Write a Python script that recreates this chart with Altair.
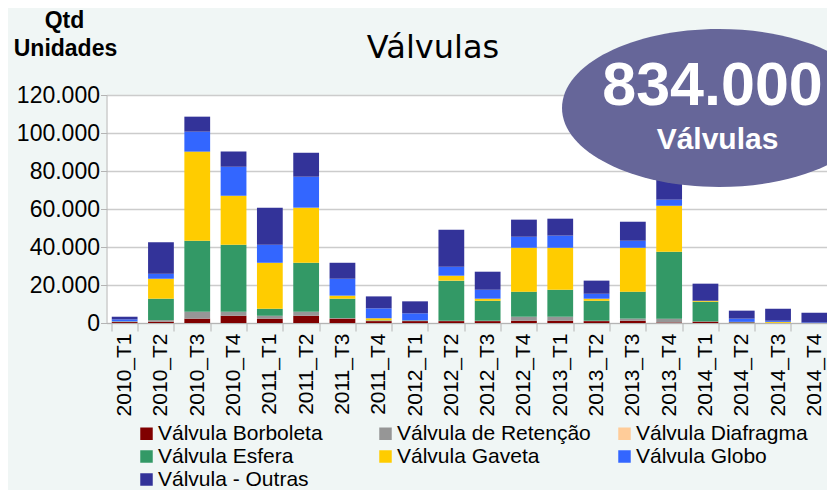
import altair as alt
import pandas as pd

periods = ["2010_T1", "2010_T2", "2010_T3", "2010_T4",
           "2011_T1", "2011_T2", "2011_T3", "2011_T4",
           "2012_T1", "2012_T2", "2012_T3", "2012_T4",
           "2013_T1", "2013_T2", "2013_T3", "2013_T4",
           "2014_T1", "2014_T2", "2014_T3", "2014_T4"]

series_names = ["Válvula Borboleta", "Válvula de Retenção", "Válvula Diafragma",
                "Válvula Esfera", "Válvula Gaveta", "Válvula Globo", "Válvula - Outras"]
series_colors = ["#800000", "#969696", "#FFCC99", "#339966", "#FFCC00", "#3366FF", "#333399"]

borboleta = [500, 700, 2300, 3800, 2300, 3800, 2300, 1000, 1000, 1000,
             1000, 1200, 1200, 1000, 1200, 300, 700, 300, 0, 0]
retencao = [300, 800, 3600, 2100, 1500, 2100, 300, 200, 200, 200,
            200, 2100, 2100, 200, 1100, 2000, 100, 100, 0, 0]
diafragma = [0, 0, 0, 0, 0, 0, 0, 0, 0, 0,
             0, 0, 0, 0, 0, 0, 0, 0, 0, 0]
esfera = [100, 11300, 37400, 35300, 3700, 25800, 10200, 200, 200, 21100,
          10500, 13200, 14200, 10500, 14200, 35200, 10400, 200, 100, 0]
gaveta = [0, 10500, 46900, 25800, 24200, 29000, 1600, 1100, 0, 2600,
          1100, 23100, 22100, 1100, 23100, 24200, 500, 0, 500, 0]
globo = [1000, 2600, 10500, 15300, 9500, 16300, 8900, 5200, 3700, 4700,
         4700, 5800, 6400, 2600, 3700, 3200, 0, 1700, 600, 300]
outras = [1400, 16600, 7900, 7900, 19500, 12600, 8400, 6300, 6300, 19500,
          9500, 9000, 8900, 6900, 10000, 16000, 9000, 4200, 6300, 5100]

y_ticks = [0, 20000, 40000, 60000, 80000, 100000, 120000]

all_series = [borboleta, retencao, diafragma, esfera, gaveta, globo, outras]
rows = []
for si, (name, vals) in enumerate(zip(series_names, all_series)):
    for p, v in zip(periods, vals):
        rows.append({"periodo": p, "tipo": name, "ordem": si, "qtd": v})
df = pd.DataFrame(rows)

FONT = "Liberation Sans"

bars = alt.Chart(df).mark_bar().encode(
    x=alt.X("periodo:N", sort=periods,
            scale=alt.Scale(range=[0, 726], paddingInner=0.29, paddingOuter=0.145),
            axis=alt.Axis(title=None, labelAngle=-90, labelFont=FONT, labelFontSize=21,
                          labelColor="black", tickBand="extent", tickSize=8, labelPadding=2,
                          domainColor="#b4b4b4", tickColor="#b4b4b4", grid=False)),
    y=alt.Y("qtd:Q", stack="zero",
            scale=alt.Scale(domain=[0, 120000], nice=False),
            axis=alt.Axis(title=None, values=y_ticks,
                          labelExpr="replace(format(datum.value, ','), ',', '.')",
                          labelFont=FONT, labelFontSize=23, labelColor="black",
                          tickSize=6, labelPadding=1, tickColor="#b4b4b4",
                          domainColor="#b4b4b4", gridColor="#cccccc", gridWidth=1.5)),
    color=alt.Color("tipo:N",
                    scale=alt.Scale(domain=series_names, range=series_colors),
                    legend=alt.Legend(title=None, orient="none", legendX=29.5, legendY=328,
                                      direction="horizontal", columns=3, gridAlign="all",
                                      symbolType="square", symbolSize=156,
                                      symbolStrokeWidth=0, symbolOpacity=1,
                                      labelFont=FONT, labelFontSize=21, labelColor="black",
                                      labelOffset=1, columnPadding=23, rowPadding=1,
                                      padding=0, labelLimit=400)),
    order=alt.Order("ordem:Q", sort="ascending"),
)

# unit ellipse (rx = 1, ry = 0.503) drawn with cubic Beziers
ellipse_path = ("M -1 0 C -1 -0.2778 -0.5523 -0.503 0 -0.503 "
                "C 0.5523 -0.503 1 -0.2778 1 0 "
                "C 1 0.2778 0.5523 0.503 0 0.503 "
                "C -0.5523 0.503 -1 0.2778 -1 0 Z")
ellipse = alt.Chart(pd.DataFrame({"k": [0]})).mark_point(
    shape=ellipse_path, size=98596, filled=True, color="#666699", opacity=1, strokeWidth=0
).encode(x=alt.value(612.5), y=alt.value(13))

big_num = alt.Chart(pd.DataFrame({"t": ["834.000"]})).mark_text(
    font=FONT, fontSize=61, fontWeight="bold", color="white", align="center", baseline="alphabetic"
).encode(text="t:N", x=alt.value(606), y=alt.value(10))

big_lbl = alt.Chart(pd.DataFrame({"t": ["Válvulas"]})).mark_text(
    font=FONT, fontSize=30, fontWeight="bold", color="white", align="center", baseline="alphabetic"
).encode(text="t:N", x=alt.value(611), y=alt.value(54))

title = alt.Chart(pd.DataFrame({"t": ["Válvulas"]})).mark_text(
    font="DejaVu Sans", fontSize=32, color="black", align="center", baseline="alphabetic"
).encode(text="t:N", x=alt.value(326.5), y=alt.value(-37))

ylab1 = alt.Chart(pd.DataFrame({"t": ["Qtd"]})).mark_text(
    font=FONT, fontSize=23, fontWeight="bold", color="black", align="center", baseline="alphabetic"
).encode(text="t:N", x=alt.value(-42), y=alt.value(-66.7))

ylab2 = alt.Chart(pd.DataFrame({"t": ["Unidades"]})).mark_text(
    font=FONT, fontSize=23, fontWeight="bold", color="black", align="center", baseline="alphabetic"
).encode(text="t:N", x=alt.value(-41), y=alt.value(-39))

chart = alt.layer(bars, ellipse, big_num, big_lbl, title, ylab1, ylab2).properties(
    width=720.5, height=228,
    autosize=alt.AutoSizeParams(type="none"),
    padding={"left": 98.5, "top": 87, "right": 0, "bottom": 167},
    background="#f0f6f5",
).configure_view(fill="white", stroke=None)

chart.save("out.html", embed_options={"renderer": "svg", "actions": False})
